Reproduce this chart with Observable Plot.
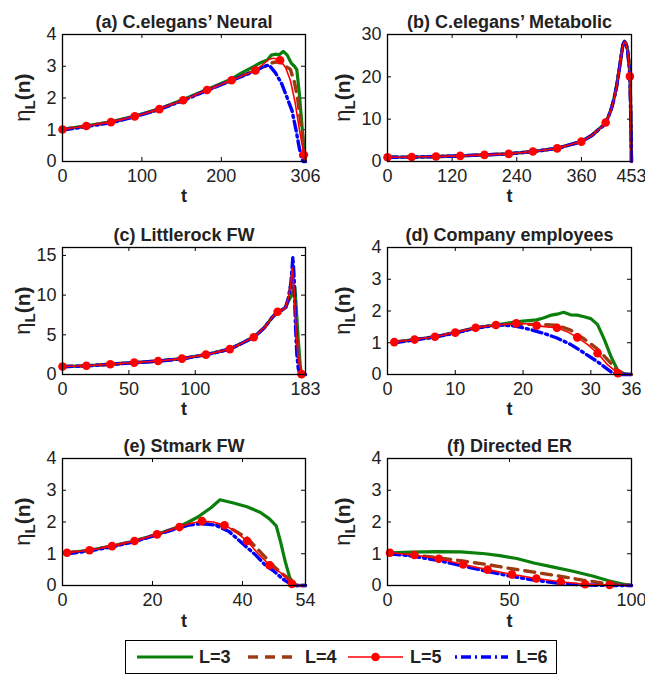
<!DOCTYPE html>
<html><head><meta charset="utf-8">
<script src="https://cdn.jsdelivr.net/npm/d3@7"></script>
<script src="https://cdn.jsdelivr.net/npm/@observablehq/plot@0.6"></script>
<style>
body{margin:0;background:#fff;}
#root{position:relative;width:645px;height:675px;font-family:"Liberation Sans",Arial,Helvetica,sans-serif;background:#fff;}
.panel{position:absolute;}
#legend{position:absolute;left:125px;top:640px;}
</style></head><body><div id="root"></div>
<script>
// ---------- series labels ----------
const seriesNames = ["L=3", "L=4", "L=5", "L=6"];

// ---------- (a) C.elegans' Neural ----------
const neuralL3 = [[0,1.01],[30,1.12],[61,1.25],[91,1.43],[122,1.66],[152,1.95],[182,2.27],[213,2.6],[225,2.78],[240,2.98],[250,3.12],[258,3.2],[263,3.35],[268,3.38],[273,3.36],[278,3.47],[283,3.35],[288,3.1],[292,3.0],[295,2.9],[298,2.2],[301,1.3],[304,0.4],[306,0]];
const neuralL4 = [[0,1.01],[30,1.12],[61,1.24],[91,1.42],[122,1.65],[152,1.93],[182,2.25],[213,2.56],[243,2.87],[255,3.0],[265,3.12],[274,3.15],[281,3.0],[287,2.9],[292,2.5],[296,2.0],[299,1.4],[302,0.9],[304,0.3],[306,0]];
const neuralL5 = [[0,1.01],[30,1.12],[61,1.24],[91,1.42],[122,1.65],[152,1.93],[182,2.25],[213,2.56],[243,2.87],[252,3.05],[260,3.22],[266,3.25],[274,3.19],[281,2.95],[287,2.55],[293,1.85],[298,1.05],[304,0.21],[306,0]];
const neuralL5marks = [0,30,61,91,122,152,182,213,243,274,304];
const neuralL6 = [[0,0.99],[30,1.1],[61,1.22],[91,1.41],[122,1.64],[152,1.92],[182,2.24],[213,2.55],[243,2.86],[252,2.98],[260,3.04],[268,2.8],[276,2.45],[283,2.0],[289,1.6],[294,1.0],[298,0.45],[301,0.1],[303,0],[306,0]];

// ---------- (b) C.elegans' Metabolic ----------
const metabL3 = [[0,1.0],[45,1.05],[90,1.17],[135,1.33],[180,1.57],[225,1.82],[270,2.37],[315,3.12],[360,4.75],[380,6.3],[400,8.5],[405,9.3],[410,10.6],[415,12.3],[420,14.6],[425,17.6],[430,21.6],[434,25.1],[437,27.6],[440,28.4],[443,27.9],[446,26.2],[449,22.4],[450,20.5],[451,15.5],[452,8],[453,0]];
const metabL4 = [[0,1.0],[45,1.05],[90,1.17],[135,1.33],[180,1.57],[225,1.8],[270,2.35],[315,3.1],[360,4.7],[380,6.2],[400,8.4],[405,9.2],[410,10.5],[415,12.2],[420,14.5],[425,17.5],[430,21.5],[434,25],[437,27.5],[440,28.3],[443,27.8],[446,26],[449,22],[450,20.1],[451,15],[452,8],[453,0]];
const metabL5 = [[0,1.0],[45,1.05],[90,1.17],[135,1.33],[180,1.57],[225,1.8],[270,2.35],[315,3.1],[360,4.7],[380,6.2],[400,8.4],[405,9.2],[410,10.5],[415,12.2],[420,14.5],[425,17.5],[430,21.5],[434,25],[437,27.5],[440,28.3],[443,27.8],[446,26],[449,22],[450,20.1],[451,15],[452,8],[453,0]];
const metabL5marks = [0,45,90,135,180,225,270,315,360,405,450];
const metabL6 = [[0,1.0],[45,1.05],[90,1.17],[135,1.33],[180,1.57],[225,1.8],[270,2.35],[315,3.1],[360,4.7],[380,6.2],[400,8.4],[405,9.2],[410,10.5],[415,12.2],[420,14.5],[425,17.5],[430,21.5],[434,25],[437,27.5],[440,28.3],[443,27.8],[446,26],[449,22],[450,20.1],[451,15],[452,8],[453,0]];

// ---------- (c) Littlerock FW ----------
const rockL3 = [[0,1.0],[18,1.1],[36,1.3],[54,1.5],[72,1.7],[90,2.0],[108,2.5],[126,3.2],[144,4.7],[152,5.9],[158,7.2],[162,7.9],[165,8.1],[168,8.5],[170,9.2],[172,9.8],[173.5,10.5],[175,11.0],[176,8.5],[177.5,4.5],[179,1.2],[180,0],[183,0]];
const rockL4 = [[0,1.0],[18,1.1],[36,1.3],[54,1.5],[72,1.7],[90,2.0],[108,2.5],[126,3.2],[144,4.7],[152,5.9],[158,7.2],[162,7.9],[165,8.1],[168,8.4],[170,9.6],[172,11.3],[173,12.8],[175,9],[177,3.5],[179,0.6],[180,0],[183,0]];
const rockL5 = [[0,1.0],[18,1.1],[36,1.3],[54,1.5],[72,1.7],[90,2.0],[108,2.5],[126,3.2],[144,4.7],[152,5.9],[158,7.2],[162,7.9],[165,8.1],[168,8.4],[170,9.6],[172,11.5],[173,13.4],[174.5,10.5],[176,5],[177.5,2],[180,0.05],[183,0]];
const rockL5marks = [0,18,36,54,72,90,108,126,144,162,180];
const rockL6 = [[0,0.98],[18,1.08],[36,1.28],[54,1.48],[72,1.68],[90,1.98],[108,2.48],[126,3.18],[144,4.68],[152,5.9],[158,7.2],[162,7.9],[165,8.1],[168,8.4],[170,9.5],[172,11.5],[173.5,14.8],[174.5,12],[175.5,6],[176.5,2.5],[177.5,0.8],[179,0],[183,0]];

// ---------- (d) Company employees ----------
const compL3 = [[1,1.02],[4,1.1],[7,1.19],[10,1.32],[13,1.47],[16,1.56],[18,1.63],[20,1.68],[22,1.72],[23,1.78],[24,1.86],[25,1.9],[26,1.96],[27,1.88],[28,1.87],[29,1.82],[30,1.76],[31,1.57],[32,1.1],[33,0.55],[34,0.12],[35,0.02],[36,0]];
const compL4 = [[1,1.02],[4,1.1],[7,1.19],[10,1.32],[13,1.47],[16,1.56],[19,1.58],[22,1.58],[25,1.55],[27,1.4],[29,1.12],[31,0.8],[33,0.35],[34,0.12],[35,0],[36,0]];
const compL5 = [[1,1.02],[4,1.1],[7,1.19],[10,1.32],[13,1.47],[16,1.56],[19,1.61],[20.5,1.6],[22,1.54],[23.5,1.5],[25,1.47],[26.5,1.35],[28,1.17],[29.5,0.95],[31,0.67],[32.5,0.3],[34,0.04],[35,0],[36,0]];
const compL5marks = [1,4,7,10,13,16,19,22,25,28,31,34];
const compL6 = [[1,1.0],[4,1.09],[7,1.18],[10,1.31],[13,1.46],[16,1.55],[17,1.56],[19,1.52],[21,1.42],[23,1.3],[25,1.15],[27,0.95],[29,0.68],[31,0.4],[33,0.08],[34,0],[36,0]];

// ---------- (e) Stmark FW ----------
const stmL3 = [[1,1.03],[6,1.11],[11,1.24],[16,1.4],[21,1.61],[26,1.86],[28,2.0],[30,2.15],[33,2.45],[35,2.7],[38,2.6],[41,2.48],[44,2.3],[46,2.1],[47.5,1.88],[48.5,1.35],[49.5,0.75],[50.5,0.25],[51.5,0.05],[52,0],[54,0]];
const stmL4 = [[1,1.03],[6,1.11],[11,1.24],[16,1.4],[21,1.61],[26,1.84],[28,1.92],[31,1.95],[34,1.92],[36,1.88],[38,1.75],[41,1.5],[44,1.05],[47,0.6],[49,0.35],[51,0.15],[52,0],[54,0]];
const stmL5 = [[1,1.03],[6,1.11],[11,1.24],[16,1.4],[21,1.61],[26,1.84],[28.5,1.95],[31,2.03],[33.5,2.0],[36,1.9],[38.5,1.7],[41,1.4],[43.5,1.0],[46,0.64],[48.5,0.4],[51,0.05],[52,0],[54,0]];
const stmL5marks = [1,6,11,16,21,26,31,36,41,46,51];
const stmL6 = [[1,1.0],[6,1.09],[11,1.22],[16,1.38],[21,1.6],[26,1.82],[28,1.9],[31,1.95],[34,1.9],[37,1.7],[39,1.45],[41,1.2],[43,0.95],[45,0.65],[47,0.45],[49,0.2],[51,0.02],[52,0],[54,0]];

// ---------- (f) Directed ER ----------
const erL3 = [[1,1.03],[10,1.05],[20,1.07],[30,1.06],[40,1.0],[46,0.94],[53,0.85],[60,0.71],[68,0.58],[76,0.45],[84,0.3],[91,0.14],[96,0.05],[100,0]];
const erL4 = [[1,1.0],[10,0.96],[20,0.88],[30,0.78],[40,0.67],[50,0.54],[60,0.42],[70,0.3],[80,0.17],[90,0.06],[100,0]];
const erL5 = [[1,1.03],[11,0.96],[21,0.84],[31,0.66],[41,0.5],[51,0.35],[61,0.22],[71,0.12],[81,0.04],[91,0.02],[100,0]];
const erL5marks = [1,11,21,31,41,51,61,71,81,91];
const erL6 = [[1,1.0],[10,0.93],[20,0.8],[30,0.63],[40,0.46],[50,0.3],[60,0.17],[70,0.07],[80,0.02],[90,0],[100,0]];

// ---------- panel definitions ----------
const panels = [
  {title:"(a) C.elegans’ Neural", s:[neuralL3,neuralL4,neuralL5,neuralL6], marks:neuralL5marks, xDomain:[0,306], xTicks:[0,100,200,306], yDomain:[0,4], yTicks:[0,1,2,3,4], col:0, row:0},
  {title:"(b) C.elegans’ Metabolic", s:[metabL3,metabL4,metabL5,metabL6], marks:metabL5marks, xDomain:[0,453], xTicks:[0,120,240,360,453], yDomain:[0,30], yTicks:[0,10,20,30], col:1, row:0},
  {title:"(c) Littlerock FW", s:[rockL3,rockL4,rockL5,rockL6], marks:rockL5marks, xDomain:[0,183], xTicks:[0,50,100,183], yDomain:[0,16], yTicks:[0,5,10,15], col:0, row:1},
  {title:"(d) Company employees", s:[compL3,compL4,compL5,compL6], marks:compL5marks, xDomain:[0,36], xTicks:[0,10,20,30,36], yDomain:[0,4], yTicks:[0,1,2,3,4], col:1, row:1},
  {title:"(e) Stmark FW", s:[stmL3,stmL4,stmL5,stmL6], marks:stmL5marks, xDomain:[0,54], xTicks:[0,20,40,54], yDomain:[0,4], yTicks:[0,1,2,3,4], col:0, row:2},
  {title:"(f) Directed ER", s:[erL3,erL4,erL5,erL6], marks:erL5marks, xDomain:[0,100], xTicks:[0,50,100], yDomain:[0,4], yTicks:[0,1,2,3,4], col:1, row:2}
];

const colors = ["#0b7f0b", "#9c3a12", "#ff0000", "#0000ff"];
const FONT = "'Liberation Sans', Arial, Helvetica, sans-serif";

const colGeom = [{left:0, width:322, ml:62, mr:17, labelX:30}, {left:322, width:323, ml:65, mr:14, labelX:28}];
const rowGeom = [{top:0, tDy:40}, {top:213, tDy:40}, {top:424, tDy:41}];
const MT = 34, BOXH = 127, MB = 48, H = MT + BOXH + MB;

const root = document.getElementById("root");

for (const p of panels) {
  const cg = colGeom[p.col], rg = rowGeom[p.row];
  const innerW = cg.width - cg.ml - cg.mr;
  const toRows = (arr) => arr.map(([t, v]) => ({t, v}));
  const [l3, l4, l5, l6] = p.s.map(toRows);
  const m5 = l5.filter(d => p.marks.includes(d.t));
  const svg = Plot.plot({
    width: cg.width, height: H,
    marginLeft: cg.ml, marginRight: cg.mr, marginTop: MT, marginBottom: MB,
    x: {domain: p.xDomain},
    y: {domain: p.yDomain},
    style: {fontFamily: FONT, fontSize: "18px", color: "#222", background: "transparent", overflow: "visible"},
    marks: [
      Plot.axisX({ticks: p.xTicks, tickSize: 0, tickPadding: 8, tickFormat: d => String(d), label: null, fontSize: 18}),
      Plot.axisY({ticks: p.yTicks, tickSize: 0, tickPadding: 6, tickFormat: d => String(d), label: null, fontSize: 18}),
      Plot.tickX(p.xTicks, {x: d => d, insetTop: BOXH - 4, stroke: "#000", strokeWidth: 1}),
      Plot.tickX(p.xTicks, {x: d => d, insetBottom: BOXH - 4, stroke: "#000", strokeWidth: 1}),
      Plot.tickY(p.yTicks, {y: d => d, insetRight: innerW - 4, stroke: "#000", strokeWidth: 1}),
      Plot.tickY(p.yTicks, {y: d => d, insetLeft: innerW - 4, stroke: "#000", strokeWidth: 1}),
      Plot.line(l3, {x: "t", y: "v", stroke: colors[0], strokeWidth: 3.2}),
      Plot.line(l4, {x: "t", y: "v", stroke: colors[1], strokeWidth: 3.4, strokeDasharray: "10,7"}),
      Plot.line(l6, {x: "t", y: "v", stroke: colors[3], strokeWidth: 3.4, strokeDasharray: "10,4,2,4"}),
      Plot.line(l5, {x: "t", y: "v", stroke: colors[2], strokeWidth: 1.6}),
      Plot.dot(m5, {x: "t", y: "v", r: 4.3, fill: colors[2], stroke: "none"}),
      Plot.frame({stroke: "#000", strokeWidth: 1.3}),
      Plot.text([p.title], {text: d => d, frameAnchor: "top", dy: -19, fontWeight: "bold", fontSize: 18, fill: "#222"}),
      Plot.text(["t"], {text: d => d, frameAnchor: "bottom", dy: rg.tDy, fontWeight: "bold", fontSize: 18, fill: "#222"})
    ]
  });
  // y-axis label with subscript
  const cy = MT + BOXH / 2;
  const lab = d3.select(svg).append("text")
    .attr("transform", `translate(${cg.labelX},${cy}) rotate(-90)`)
    .attr("text-anchor", "middle")
    .attr("fill", "#222")
    .attr("font-family", FONT)
    .attr("font-size", 21)
    .attr("font-weight", "bold");
  lab.append("tspan").attr("font-weight", "normal").attr("font-size", 22).text("η");
  lab.append("tspan").attr("font-size", 15).attr("dy", 5).text("L");
  lab.append("tspan").attr("dy", -5).text("(n)");

  const wrap = document.createElement("div");
  wrap.className = "panel";
  wrap.style.left = cg.left + "px";
  wrap.style.top = rg.top + "px";
  wrap.appendChild(svg);
  root.appendChild(wrap);
}

// ---------- legend ----------
const legendItems = [
  {x1: 12, x2: 68, tx: 74, dash: null, width: 3.2},
  {x1: 123, x2: 173, tx: 180, dash: "10,7", width: 3.4},
  {x1: 223, x2: 278, tx: 285, dash: null, width: 1.6, marker: true},
  {x1: 330, x2: 383, tx: 391, dash: "2,4,10,4", width: 3.4}
];
const lg = d3.select("#root").append("div").attr("id", "legend")
  .append("svg").attr("width", 432).attr("height", 34)
  .style("font-family", FONT);
lg.append("rect").attr("x", 0.5).attr("y", 0.5).attr("width", 431).attr("height", 33)
  .attr("fill", "#fff").attr("stroke", "#000").attr("stroke-width", 1);
legendItems.forEach((it, i) => {
  const g = lg.append("g");
  g.append("line").attr("x1", it.x1).attr("x2", it.x2).attr("y1", 17).attr("y2", 17)
    .attr("stroke", colors[i]).attr("stroke-width", it.width)
    .attr("stroke-dasharray", it.dash);
  if (it.marker) g.append("circle").attr("cx", (it.x1 + it.x2) / 2).attr("cy", 17).attr("r", 4.3).attr("fill", colors[i]);
  g.append("text").attr("x", it.tx).attr("y", 17).attr("dy", "0.36em")
    .attr("font-size", 18).attr("font-weight", "bold").attr("fill", "#222").text(seriesNames[i]);
});
</script></body></html>
